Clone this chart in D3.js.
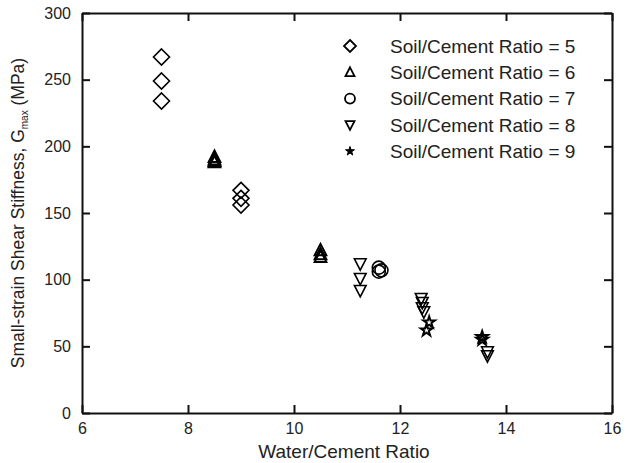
<!DOCTYPE html>
<html>
<head>
<meta charset="utf-8">
<script src="https://cdn.jsdelivr.net/npm/d3@7"></script>
<style>
  body { margin: 0; background: #fff; }
  svg { display: block; font-family: Arial, "Liberation Sans", sans-serif; }
</style>
</head>
<body>
<div class="chart"></div>
<script>
// data: [water/cement, Gmax]
const sc5 = [[7.5, 267], [7.5, 249], [7.5, 234], [9, 167], [9, 161], [9, 156]]
const sc6 = [[8.5, 192], [8.5, 190], [8.5, 189], [8.5, 188], [10.5, 122], [10.5, 119], [10.5, 117]]
const sc7 = [[11.6, 109], [11.65, 107], [11.6, 106]]
const sc8 = [[11.25, 112], [11.25, 101], [11.25, 92], [12.4, 86], [12.42, 83], [12.42, 79], [12.45, 76], [13.65, 46], [13.65, 43]]
const sc9 = [[12.55, 68], [12.5, 62], [13.55, 57], [13.55, 55]]

const series = [
    { name: 'Soil/Cement Ratio = 5', shape: 'diamond', data: sc5 },
    { name: 'Soil/Cement Ratio = 6', shape: 'up', data: sc6 },
    { name: 'Soil/Cement Ratio = 7', shape: 'circle', data: sc7 },
    { name: 'Soil/Cement Ratio = 8', shape: 'down', data: sc8 },
    { name: 'Soil/Cement Ratio = 9', shape: 'star', data: sc9 }
]

const xTicks = [6, 8, 10, 12, 14, 16]
const yTicks = [0, 50, 100, 150, 200, 250, 300]

const width = 629, height = 463
const margin = { top: 13, right: 17, bottom: 50, left: 82 }

const svg = d3.select('.chart').append('svg')
    .attr('width', width)
    .attr('height', height)

const x = d3.scaleLinear().domain([6, 16]).range([margin.left, width - margin.right])
const y = d3.scaleLinear().domain([0, 300]).range([height - margin.bottom, margin.top])

// marker outlines, s = half size
function shapePath(shape, s) {
    if (shape === 'diamond') return `M0,${-s}L${s},0L0,${s}L${-s},0Z`
    if (shape === 'up') return `M0,${-s}L${s * 0.9},${s * 0.75}L${-s * 0.9},${s * 0.75}Z`
    if (shape === 'down') return `M0,${s}L${s * 0.9},${-s * 0.75}L${-s * 0.9},${-s * 0.75}Z`
    if (shape === 'circle') return d3.symbol(d3.symbolCircle, Math.PI * s * s)()
    return d3.symbol(d3.symbolStar, s * s)()
}

const axisColor = '#111'

// axes, ticks inward on all four sides
const gx = svg.append('g').attr('transform', `translate(0,${y(0)})`)
    .call(d3.axisBottom(x).tickValues(xTicks).tickSize(-8).tickSizeOuter(0).tickPadding(11))
const gxTop = svg.append('g').attr('transform', `translate(0,${y(300)})`)
    .call(d3.axisTop(x).tickValues(xTicks).tickSize(-8).tickSizeOuter(0).tickFormat(''))
const gy = svg.append('g').attr('transform', `translate(${x(6)},0)`)
    .call(d3.axisLeft(y).tickValues(yTicks).tickSize(-8).tickSizeOuter(0).tickPadding(11))
const gyRight = svg.append('g').attr('transform', `translate(${x(16)},0)`)
    .call(d3.axisRight(y).tickValues(yTicks).tickSize(-8).tickSizeOuter(0).tickFormat(''))

svg.selectAll('.domain, .tick line').attr('stroke', axisColor).attr('stroke-width', 2)
svg.selectAll('.tick text').attr('font-size', 16).attr('fill', '#222')
    .attr('font-family', 'Arial, "Liberation Sans", sans-serif')
gx.selectAll('.tick text').attr('dy', '0.6em')

// axis titles
svg.append('text')
    .attr('x', x(11) - 3)
    .attr('y', 458)
    .attr('text-anchor', 'middle')
    .attr('font-size', 19)
    .attr('fill', '#222')
    .text('Water/Cement Ratio')

const yTitle = svg.append('text')
    .attr('transform', `translate(24,${(y(0) + y(300)) / 2}) rotate(-90)`)
    .attr('text-anchor', 'middle')
    .attr('font-size', 17.5)
    .attr('fill', '#222')
yTitle.append('tspan').text('Small-strain Shear Stiffness, G')
yTitle.append('tspan').attr('font-size', 10).attr('dy', 4).text('max')
yTitle.append('tspan').attr('dy', -4).text(' (MPa)')

// points
series.forEach((s) => {
    const size = s.shape === 'diamond' ? 8 : 6.5
    svg.append('g').selectAll('path')
        .data(s.data)
        .enter()
        .append('path')
        .attr('d', shapePath(s.shape, size))
        .attr('transform', (d) => `translate(${x(d[0])},${y(d[1])})`)
        .attr('fill', 'none')
        .attr('stroke', '#000')
        .attr('stroke-width', s.shape === 'up' || s.shape === 'star' ? 2 : 1.6)
})

// legend
const legend = svg.append('g').attr('transform', 'translate(350,46)')
const rows = legend.selectAll('g')
    .data(series)
    .enter()
    .append('g')
    .attr('transform', (d, i) => `translate(0,${i * 26.3})`)
rows.append('path')
    .attr('d', (d) => shapePath(d.shape, d.shape === 'diamond' ? 6 : d.shape === 'star' ? 5 : 5))
    .attr('fill', (d) => d.shape === 'star' ? '#000' : 'none')
    .attr('stroke', '#000')
    .attr('stroke-width', (d) => d.shape === 'star' ? 1 : 1.8)
rows.append('text')
    .attr('x', 40)
    .attr('dy', '0.36em')
    .attr('font-size', 19)
    .attr('fill', '#222')
    .text((d) => d.name)
</script>
</body>
</html>
